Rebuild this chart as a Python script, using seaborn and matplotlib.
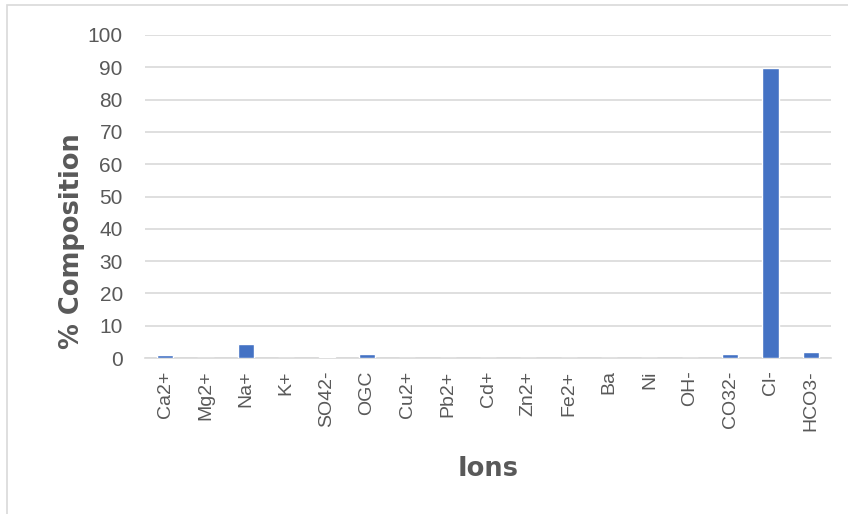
import matplotlib
matplotlib.use("Agg")
import matplotlib.pyplot as plt
from matplotlib.patches import Rectangle
import seaborn as sns
import pandas as pd

ions = ["Ca2+", "Mg2+", "Na+", "K+", "SO42-", "OGC", "Cu2+", "Pb2+", "Cd+",
        "Zn2+", "Fe2+", "Ba", "Ni", "OH-", "CO32-", "Cl-", "HCO3-"]
composition = [1.0, 0.0, 4.3, 0.0, 0.3, 1.3, 0.0, 0.0, 0.0,
               0.0, 0.0, 0.0, 0.0, 0.0, 1.3, 89.7, 1.9]
y_ticks = [0, 10, 20, 30, 40, 50, 60, 70, 80, 90, 100]

df = pd.DataFrame({"Ions": ions, "Composition": composition})

sns.set_theme(style="white")
plt.rcParams["font.family"] = ["Liberation Sans", "DejaVu Sans"]

text_color = "#595959"
grid_color = "#D9D9D9"

fig = plt.figure(figsize=(8.48, 5.14), dpi=100)
ax = fig.add_axes([145 / 848, 1 - 358 / 514, (831 - 145) / 848, (358 - 35) / 514])

sns.barplot(data=df, x="Ions", y="Composition", color="#4472C4",
            width=0.4, saturation=1, ax=ax, zorder=3)

ax.set_ylim(0, 100)
ax.set_yticks(y_ticks)
ax.set_xlim(-0.5, len(ions) - 0.5)
ax.grid(axis="y", color=grid_color, linewidth=1.2, zorder=0)
ax.grid(axis="x", visible=False)
for side in ["top", "right", "left"]:
    ax.spines[side].set_visible(False)
ax.spines["bottom"].set_color(grid_color)
ax.spines["bottom"].set_linewidth(1.2)

ax.tick_params(axis="y", colors=text_color, labelsize=15, length=0, pad=16)
ax.tick_params(axis="x", colors=text_color, labelsize=14, length=0, pad=9,
               labelrotation=90)

ax.set_xlabel("Ions", fontsize=18.5, fontweight="heavy", color=text_color,
              labelpad=18, family=["DejaVu Sans"])
ax.set_ylabel("% Composition", fontsize=18.5, fontweight="heavy", color=text_color,
              family=["DejaVu Sans"])
# Centre the y title on the plot area together with the category labels
ax.yaxis.set_label_coords((85 - 145) / 686, (358 - 241) / 323)

# Chart frame (left and top edges visible)
fig.patches.append(Rectangle((7 / 848, -0.1), 1.2, 1 - 5 / 514 + 0.1,
                             transform=fig.transFigure, fill=False,
                             edgecolor="#D9D9D9", linewidth=1.2))

fig.savefig("out.png", dpi=100)
